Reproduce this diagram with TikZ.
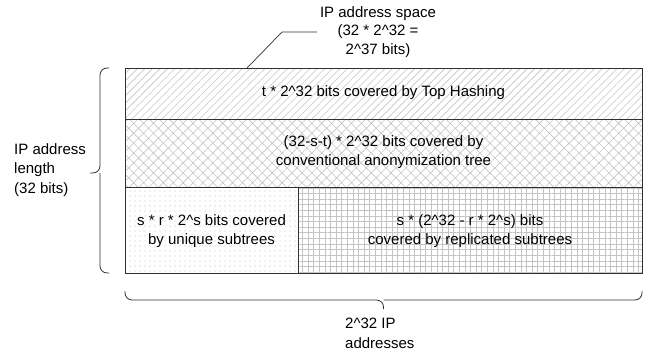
\documentclass[tikz,border=0pt]{standalone}
\usepackage{fontspec}
\setmainfont{Liberation Sans}
\usetikzlibrary{patterns.meta}
\definecolor{patgray}{HTML}{C4C4C4}
\definecolor{edge}{HTML}{303030}
\begin{document}
\begin{tikzpicture}[x=1pt,y=-1pt,
  txt/.style={font=\fontsize{15}{18.5}\selectfont, align=center, inner sep=0pt},
  ltxt/.style={font=\fontsize{15}{19.5}\selectfont, align=left, inner sep=0pt},
  band/.style={draw=edge, line width=0.8pt, pattern color=patgray},
  bracepath/.style={draw=edge, line width=0.8pt, rounded corners=7pt}
]
\useasboundingbox (0,0) rectangle (652,356);
% bands
\path[band, pattern={Lines[angle=45,distance=5.3pt,line width=0.6pt]}] (125,68) rectangle (642,119);
\path[band, pattern={Hatch[angle=45,distance=7pt,line width=0.6pt]}] (125,119) rectangle (642,187);
\path[band, pattern={Dots[distance=5pt,radius=0.55pt]}] (125,187) rectangle (298,273);
\path[band, pattern={Hatch[angle=0,distance=5.6pt,line width=0.6pt]}] (298,187) rectangle (642,273);
% texts
\node[txt] (top) at (383.5,93) {t * 2\textasciicircum 32 bits covered by Top Hashing};
\node[txt] (mid) at (383.5,152) {(32-s-t) * 2\textasciicircum 32 bits covered by\\conventional anonymization tree};
\node[txt] (uniq) at (211.5,231) {s * r * 2\textasciicircum s bits covered\\by unique subtrees};
\node[txt] (repl) at (470,231) {s * (2\textasciicircum 32 - r * 2\textasciicircum s) bits\\covered by replicated subtrees};
% top label
\node[txt] (space) at (378,32) {IP address space\\(32 * 2\textasciicircum 32 =\\2\textasciicircum 37 bits)};
\coordinate (la) at (247,68);
\coordinate (lb) at (282,32);
\coordinate (lc) at (317,32);
\draw[edge, line width=0.7pt] (la) -- (lb) -- (lc);
% left brace
\coordinate (lt) at (109,68);
\coordinate (lbm) at (109,273);
\coordinate (ltip) at (90,173);
\draw[bracepath] (lt) -- (100,68) -- (100,173) -- (ltip);
\draw[bracepath] (lbm) -- (100,273) -- (100,173);
\node[ltxt, anchor=west] (len) at (14,170) {IP address\\length\\(32 bits)};
% bottom brace
\coordinate (bl) at (125,291);
\coordinate (br) at (642,291);
\coordinate (btip) at (383.5,309);
\draw[bracepath] (bl) -- (125,300) -- (383.5,300) -- (btip);
\draw[bracepath] (br) -- (642,300) -- (383.5,300);
\node[ltxt, anchor=north west] (addr) at (345,318) {2\textasciicircum 32 IP\\addresses};
\end{tikzpicture}
\end{document}
